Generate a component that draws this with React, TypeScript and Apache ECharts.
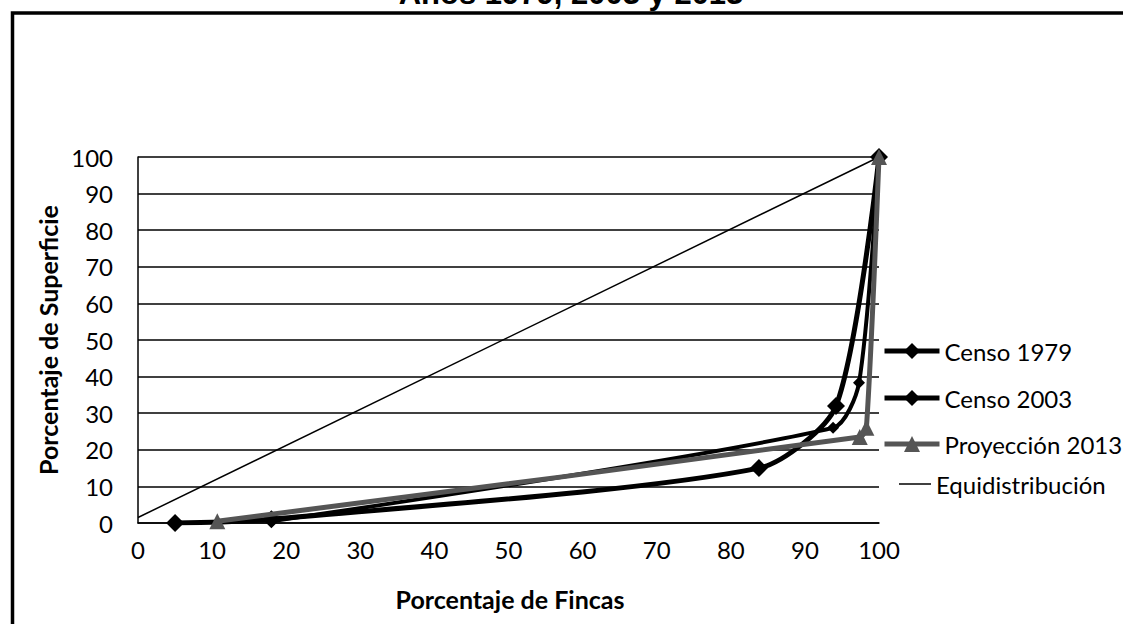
import React, { useEffect, useRef } from "react";
import * as echarts from "echarts";

const titleText = "Años 1979, 2003 y 2013";
const xAxisTitle = "Porcentaje de Fincas";
const yAxisTitle = "Porcentaje de Superficie";

const seriesNames = ["Censo 1979", "Censo 2003", "Proyección 2013", "Equidistribución"];

// [porcentaje de fincas, porcentaje de superficie]
const censo1979: number[][] = [[5, 0], [18, 1], [83.8, 15], [94.2, 32], [100, 100]];
const censo2003: number[][] = [[18, 0.5], [93.8, 26], [97.3, 38.3], [100, 100]];
const proyeccion2013: number[][] = [[10.7, 0.5], [97.4, 23.5], [98.3, 26], [100, 100]];
const equidistribucion: number[][] = [[0, 1.5], [100, 100]];

const xTicks = { min: 0, max: 100, interval: 10 };
const yTicks = { min: 0, max: 100, interval: 10 };

const FONT = "Lato";

export default function App() {
  const ref = useRef<HTMLDivElement>(null);
  useEffect(() => {
    if (!ref.current) return;
    const chart = echarts.init(ref.current, undefined, { renderer: "svg" });
    const legendBase = {
      orient: "vertical" as const,
      padding: 0,
      itemHeight: 20,
      textStyle: { fontFamily: FONT, fontSize: 24, color: "#000" },
      lineStyle: { width: 5 },
      selectedMode: false,
    };
    chart.setOption({
      animation: false,
      backgroundColor: "#fff",
      grid: { left: 138, right: 244, top: 157, bottom: 101, containLabel: false },
      xAxis: {
        type: "value",
        min: xTicks.min,
        max: xTicks.max,
        interval: xTicks.interval,
        axisLine: { show: true, lineStyle: { color: "#000", width: 1.5 } },
        axisTick: { show: false },
        splitLine: { show: false },
        axisLabel: { fontFamily: FONT, fontSize: 24, color: "#000", margin: 14 },
      },
      yAxis: {
        type: "value",
        min: yTicks.min,
        max: yTicks.max,
        interval: yTicks.interval,
        axisLine: { show: true, lineStyle: { color: "#000", width: 1.5 } },
        axisTick: { show: false },
        splitLine: { show: true, lineStyle: { color: "#000", width: 1.5 } },
        axisLabel: { fontFamily: FONT, fontSize: 24, color: "#000", margin: 25 },
      },
      legend: [
        { ...legendBase, left: 882, top: 339, itemWidth: 55, data: [seriesNames[0]] },
        { ...legendBase, left: 882, top: 386, itemWidth: 55, data: [seriesNames[1]] },
        { ...legendBase, left: 882, top: 432, itemWidth: 55, data: [seriesNames[2]] },
        {
          ...legendBase,
          left: 899,
          top: 472,
          itemWidth: 32,
          itemHeight: 1.5,
          data: [{ name: seriesNames[3], icon: "rect" }],
        },
      ],
      series: [
        {
          name: seriesNames[0],
          type: "line",
          data: censo1979,
          smooth: 0.25,
          symbol: "diamond",
          symbolSize: 18,
          lineStyle: { color: "#000", width: 5 },
          itemStyle: { color: "#000" },
          z: 3,
        },
        {
          name: seriesNames[1],
          type: "line",
          data: censo2003,
          smooth: 0.25,
          symbol: "diamond",
          symbolSize: 12,
          lineStyle: { color: "#000", width: 4 },
          itemStyle: { color: "#000" },
          z: 4,
        },
        {
          name: seriesNames[2],
          type: "line",
          data: proyeccion2013,
          smooth: 0.25,
          symbol: "triangle",
          symbolSize: 16,
          lineStyle: { color: "#555", width: 5 },
          itemStyle: { color: "#555" },
          z: 5,
        },
        {
          name: seriesNames[3],
          type: "line",
          data: equidistribucion,
          symbol: "none",
          lineStyle: { color: "#000", width: 1.5 },
          itemStyle: { color: "#000" },
          z: 2,
        },
      ],
      graphic: [
        {
          type: "rect",
          shape: { x: 12.5, y: 13, width: 1200, height: 700 },
          style: { fill: "none", stroke: "#000", lineWidth: 3.5 },
          silent: true,
        },
        {
          type: "text",
          x: 571,
          y: 9,
          style: {
            text: titleText,
            fontFamily: "Liberation Sans",
            fontWeight: "bold",
            fontSize: 31,
            fill: "#000",
            textAlign: "center",
            textVerticalAlign: "bottom",
          },
        },
        {
          type: "text",
          x: 510,
          y: 599,
          style: {
            text: xAxisTitle,
            fontFamily: FONT,
            fontWeight: "bold",
            fontSize: 25,
            fill: "#000",
            textAlign: "center",
            textVerticalAlign: "middle",
          },
        },
        {
          type: "text",
          x: 48,
          y: 340,
          rotation: Math.PI / 2,
          style: {
            text: yAxisTitle,
            fontFamily: FONT,
            fontWeight: "bold",
            fontSize: 25,
            fill: "#000",
            textAlign: "center",
            textVerticalAlign: "middle",
          },
        },
      ],
    });
    return () => chart.dispose();
  }, []);
  return <div ref={ref} style={{ width: 1123, height: 624, position: "fixed", left: 0, top: 0 }} />;
}
